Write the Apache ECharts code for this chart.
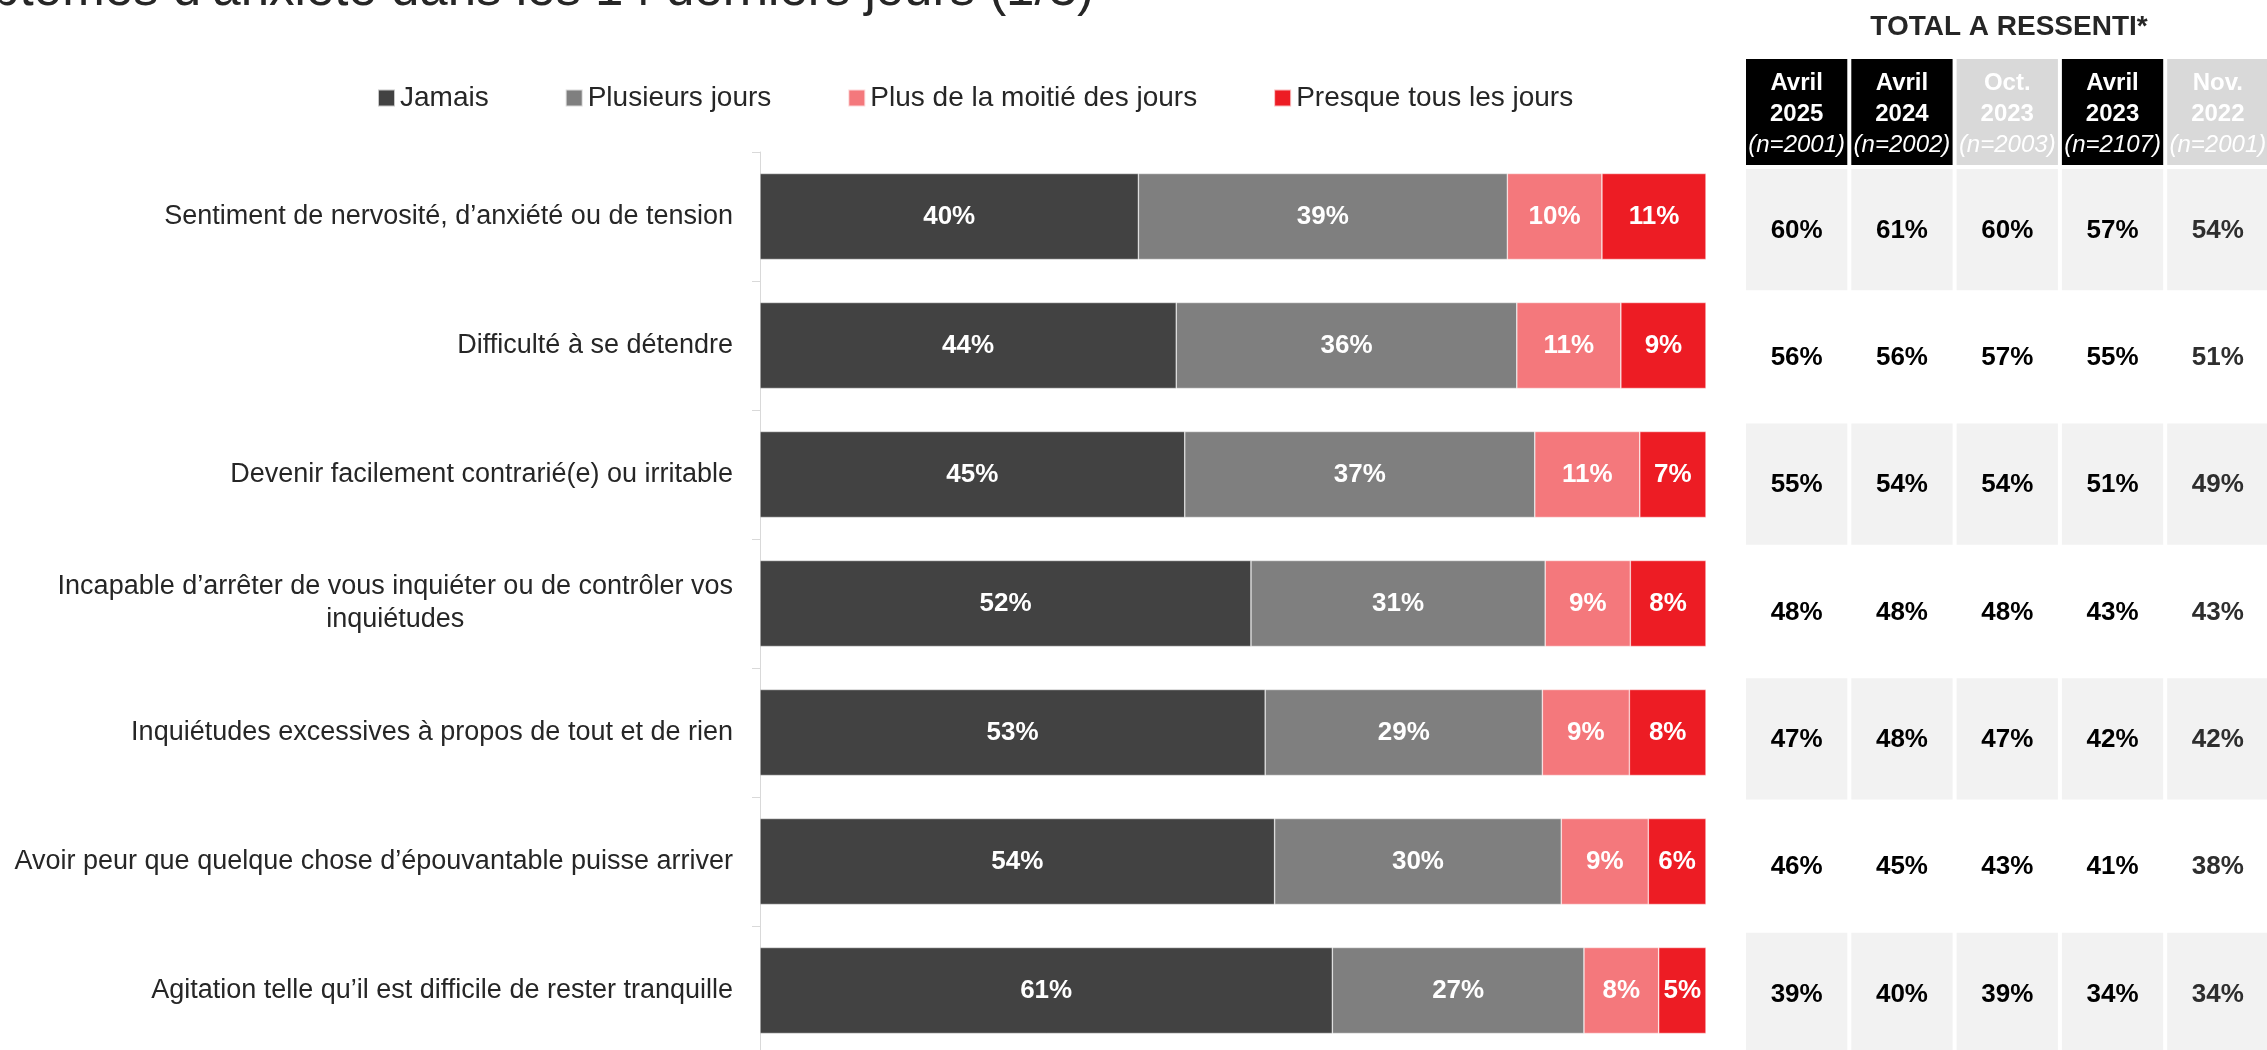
<!DOCTYPE html>
<html><head><meta charset="utf-8">
<script src="https://cdn.jsdelivr.net/npm/echarts@6/dist/echarts.min.js"></script>
<style>html,body{margin:0;padding:0;background:#fff}#main{width:2267px;height:1050px}</style>
</head><body><div id="main"></div>
<script>
// ---------- DATA ----------
const titleText = "Symptômes d’anxiété dans les 14 derniers jours (1/3)";
const tableTitle = "TOTAL A RESSENTI*";
const categories = [
  "Sentiment de nervosité, d’anxiété ou de tension",
  "Difficulté à se détendre",
  "Devenir facilement contrarié(e) ou irritable",
  "Incapable d’arrêter de vous inquiéter ou de contrôler vos\ninquiétudes",
  "Inquiétudes excessives à propos de tout et de rien",
  "Avoir peur que quelque chose d’épouvantable puisse arriver",
  "Agitation telle qu’il est difficile de rester tranquille"
];
const seriesNames = ["Jamais", "Plusieurs jours", "Plus de la moitié des jours", "Presque tous les jours"];
const jamais    = [40.0, 44.0, 44.9, 51.9, 53.4, 54.4, 60.5];
const plusieurs = [39.0, 36.0, 37.0, 31.1, 29.3, 30.3, 26.6];
const moitie    = [10.0, 11.0, 11.1, 9.0, 9.2, 9.2, 7.9];
const presque   = [11.0, 9.0, 7.0, 8.0, 8.1, 6.1, 5.0];

const waveMonths = ["Avril", "Avril", "Oct.", "Avril", "Nov."];
const waveYears  = ["2025", "2024", "2023", "2023", "2022"];
const waveN      = ["(n=2001)", "(n=2002)", "(n=2003)", "(n=2107)", "(n=2001)"];
const waveAprilTrend = [true, true, false, true, false];
const totalAvr2025 = [60, 56, 55, 48, 47, 46, 39];
const totalAvr2024 = [61, 56, 54, 48, 48, 45, 40];
const totalOct2023 = [60, 57, 54, 48, 47, 43, 39];
const totalAvr2023 = [57, 55, 51, 43, 42, 41, 34];
const totalNov2022 = [54, 51, 49, 43, 42, 38, 34];

// ---------- BUILD ----------
const FONT = '"Liberation Sans", Arial, sans-serif';
const colors = ["#424242", "#7f7f7f", "#f4787c", "#ed1c24"];
const stackVals = [jamais, plusieurs, moitie, presque];
const totals = [totalAvr2025, totalAvr2024, totalOct2023, totalAvr2023, totalNov2022];

const tableData = [];
totals.forEach((arr, c) => arr.forEach((v, r) => tableData.push([c, r, v])));
const headerData = waveMonths.map((m, c) => [c, 0]);

const chart = echarts.init(document.getElementById('main'), null, {renderer: 'canvas'});

const barSeries = seriesNames.map((name, i) => ({
  name: name,
  type: 'bar',
  stack: 'total',
  xAxisIndex: 0, yAxisIndex: 0,
  barWidth: 86,
  data: stackVals[i],
  itemStyle: {color: colors[i], borderColor: 'rgba(255,255,255,0.7)', borderWidth: 0.6},
  label: {
    show: true, position: 'inside', color: '#fff', fontFamily: FONT,
    fontWeight: 'bold', fontSize: 26,
    formatter: p => Math.round(p.value) + '%'
  },
  emphasis: {disabled: true}
}));

const option = {
  backgroundColor: '#fff',
  animation: false,
  textStyle: {fontFamily: FONT},
  legend: {
    left: 377, top: 84, padding: 0,
    itemWidth: 17, itemHeight: 17, itemGap: 76,
    icon: 'rect', selectedMode: false,
    textStyle: {fontFamily: FONT, fontSize: 28, color: '#262626'},
    data: seriesNames
  },
  grid: [
    {left: 760, top: 152, width: 946, height: 903, containLabel: false, outerBoundsMode: 'none'},
    {left: 1744, top: 59, width: 526.5, height: 106, containLabel: false, outerBoundsMode: 'none'},
    {left: 1744, top: 166, width: 526.5, height: 891, containLabel: false, outerBoundsMode: 'none'}
  ],
  xAxis: [
    {type: 'value', gridIndex: 0, min: 0, max: 100, show: false},
    {type: 'category', gridIndex: 1, data: waveYears, show: false},
    {type: 'category', gridIndex: 2, data: waveYears, show: false}
  ],
  yAxis: [
    {
      type: 'category', gridIndex: 0, data: categories, inverse: true,
      axisLine: {show: true, lineStyle: {color: '#d9d9d9', width: 1}},
      axisTick: {show: true, length: 8, lineStyle: {color: '#d9d9d9'}},
      splitLine: {show: false},
      axisLabel: {
        interval: 0, margin: 27, align: 'right',
        formatter: v => v.split('\n').map(l => '{c|' + l + '}').join('\n'),
        rich: {c: {align: 'center', fontFamily: FONT, fontSize: 27, color: '#262626', lineHeight: 33}}
      }
    },
    {type: 'category', gridIndex: 1, data: ['h'], show: false},
    {type: 'category', gridIndex: 2, data: categories, inverse: true, show: false}
  ],
  graphic: [
    {type: 'text', x: 1094, y: -9, silent: true,
     style: {text: titleText, align: 'right', verticalAlign: 'middle', font: '51px ' + FONT, fill: '#262626'}},
    {type: 'text', x: 2009, y: 27, silent: true,
     style: {text: tableTitle, align: 'center', verticalAlign: 'middle', font: 'bold 28px ' + FONT, fill: '#262626'}}
  ],
  series: barSeries.concat([
    {
      type: 'custom', xAxisIndex: 1, yAxisIndex: 1, data: headerData, silent: true,
      renderItem: (params, api) => {
        const c = api.value(0);
        const p = api.coord([c, 0]);
        const s = api.size([1, 1]);
        const w = s[0] - 4, h = s[1];
        const on = waveAprilTrend[c];
        return {type: 'group', children: [
          {type: 'rect', shape: {x: p[0] - w / 2, y: p[1] - h / 2, width: w, height: h},
           style: {fill: on ? '#000000' : '#d9d9d9'}},
          {type: 'text', x: p[0], y: p[1] + 2,
           style: {
             text: '{b|' + waveMonths[c] + '}\n{b|' + waveYears[c] + '}\n{i|' + waveN[c] + '}',
             align: 'center', verticalAlign: 'middle',
             rich: {
               b: {font: 'bold 24px ' + FONT, fill: '#ffffff', lineHeight: 31, align: 'center'},
               i: {font: 'italic 24px ' + FONT, fill: '#ffffff', lineHeight: 31, align: 'center'}
             }
           }}
        ]};
      }
    },
    {
      type: 'custom', xAxisIndex: 2, yAxisIndex: 2, data: tableData, silent: true,
      renderItem: (params, api) => {
        const c = api.value(0), r = api.value(1), v = api.value(2);
        const p = api.coord([c, r]);
        const s = api.size([1, 1]);
        const w = s[0] - 4, h = s[1] - 6;
        return {type: 'group', children: [
          {type: 'rect', shape: {x: p[0] - w / 2, y: p[1] - h / 2, width: w, height: h},
           style: {fill: r % 2 === 0 ? '#f2f2f2' : '#ffffff'}},
          {type: 'text', x: p[0], y: p[1] + 1,
           style: {text: v + '%', align: 'center', verticalAlign: 'middle',
                   font: 'bold 26px ' + FONT, fill: c === 4 ? '#2e2e2e' : '#000000'}}
        ]};
      }
    }
  ])
};
chart.setOption(option);
</script>
</body></html>
